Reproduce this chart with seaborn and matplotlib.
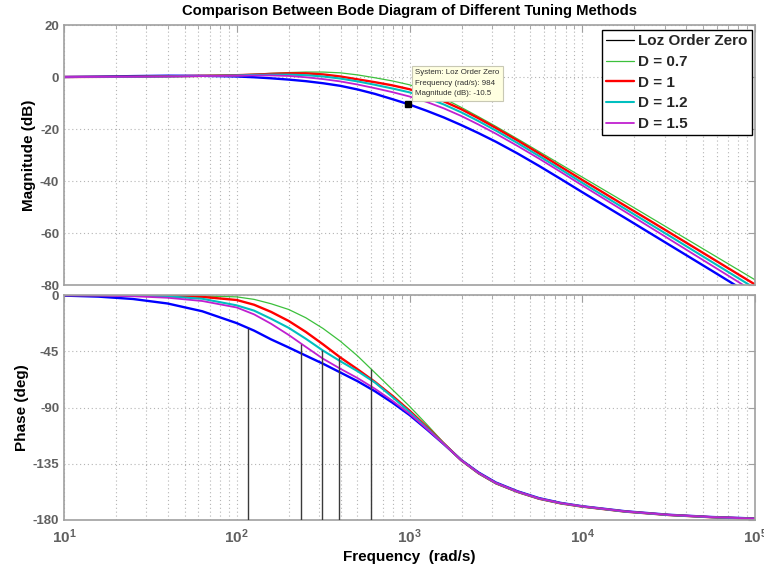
import numpy as np
import pandas as pd
import matplotlib
matplotlib.use("Agg")
import matplotlib.pyplot as plt
from matplotlib.lines import Line2D
from matplotlib.ticker import FixedLocator, LogLocator, NullFormatter
import seaborn as sns

# Frequency grid (rad/s)
freq = [10, 15.8, 25.1, 39.8, 63.1, 100, 126, 158, 200, 251, 316, 398, 501, 631, 794,
        1000, 1259, 1585, 1995, 2512, 3162, 4217, 5623, 7499, 10000, 17783, 31623, 56234, 100000]

# Magnitude (dB)
mag_loz = [0.0, 0.15, 0.35, 0.5, 0.45, 0.2, -0.1, -0.5, -1.0, -1.6, -2.4, -3.4, -4.8, -6.5, -8.5,
           -10.6, -13.0, -15.6, -18.5, -21.6, -24.9, -29.4, -34.2, -39.2, -44.3, -54.3, -64.4, -74.5, -84.7]
mag_d07 = [0.0, 0.05, 0.1, 0.25, 0.5, 0.8, 1.1, 1.4, 1.7, 1.9, 1.9, 1.6, 0.8, -0.3, -1.5,
           -3.0, -5.2, -8.3, -11.7, -15.3, -19.0, -23.8, -28.7, -33.6, -38.5, -48.3, -58.2, -68.1, -78.0]
mag_d10 = [0.0, 0.05, 0.1, 0.25, 0.45, 0.7, 0.9, 1.2, 1.4, 1.4, 1.0, 0.2, -0.9, -2.0, -3.2,
           -4.7, -6.8, -9.4, -12.4, -15.9, -19.6, -24.4, -29.4, -34.5, -39.6, -49.6, -59.6, -69.7, -79.8]
mag_d12 = [0.0, 0.05, 0.1, 0.2, 0.4, 0.6, 0.8, 0.9, 0.9, 0.7, 0.2, -0.6, -1.7, -3.0, -4.4,
           -5.9, -8.0, -10.6, -13.6, -17.0, -20.6, -25.4, -30.4, -35.5, -40.7, -50.8, -60.9, -71.1, -81.3]
mag_d15 = [0.0, 0.05, 0.1, 0.2, 0.35, 0.5, 0.6, 0.6, 0.4, -0.1, -0.8, -1.7, -2.9, -4.3, -5.8,
           -7.5, -9.6, -12.1, -15.0, -18.3, -21.8, -26.5, -31.4, -36.5, -41.7, -51.9, -62.2, -72.5, -82.8]

# Phase (deg)
ph_loz = [-0.5, -1.3, -3.2, -6.8, -13.0, -22.5, -28.5, -35.5, -42.0, -48.5, -55.0, -62.0, -69.0, -77.0, -86.0,
          -96.0, -107.5, -119.5, -132.0, -142.0, -150.0, -157.0, -162.5, -166.3, -169.0, -173.0, -175.8, -177.6, -178.8]
ph_d07 = [0.0, -0.1, -0.2, -0.4, -0.8, -1.5, -3.5, -7.0, -11.6, -18.2, -26.8, -37.0, -48.8, -62.2, -75.5,
          -89.0, -103.5, -118.5, -132.5, -143.0, -151.0, -157.8, -163.2, -166.9, -169.5, -173.5, -176.2, -177.9, -179.0]
ph_d10 = [0.0, -0.1, -0.3, -0.7, -1.5, -4.0, -7.8, -13.5, -20.8, -29.5, -39.5, -50.0, -59.5, -69.5, -80.5,
          -92.5, -105.5, -119.0, -132.3, -142.6, -150.6, -157.5, -163.0, -166.7, -169.3, -173.3, -176.0, -177.8, -179.0]
ph_d12 = [-0.1, -0.2, -0.5, -1.1, -3.0, -8.3, -12.5, -19.0, -26.3, -35.0, -44.5, -53.0, -61.0, -70.0, -81.5,
          -93.5, -106.3, -119.3, -132.2, -142.5, -150.5, -157.4, -162.9, -166.6, -169.2, -173.3, -176.0, -177.8, -179.0]
ph_d15 = [-0.2, -0.4, -1.0, -2.2, -4.8, -10.0, -15.5, -23.0, -32.0, -41.5, -51.0, -59.0, -66.5, -75.0, -84.5,
          -95.0, -107.0, -119.4, -132.2, -142.4, -150.4, -157.3, -162.8, -166.5, -169.1, -173.2, -175.9, -177.7, -178.9]

systems = ["Loz Order Zero", "D = 0.7", "D = 1", "D = 1.2", "D = 1.5"]
colors = ["#0000ff", "#3cc03c", "#ff0000", "#00bfbf", "#c020d0"]
widths = [1.7, 0.9, 1.7, 1.5, 1.3]
mags = [mag_loz, mag_d07, mag_d10, mag_d12, mag_d15]
phases = [ph_loz, ph_d07, ph_d10, ph_d12, ph_d15]

# Vertical markers on the phase plot, one per system
marker_freq = [116, 235, 311, 391, 598]
marker_phase = [-26.3, -39.5, -44.3, -49.5, -59.5]

# Data tip on the magnitude plot
tip_freq = 984
tip_mag = -10.5

frames = []
for name, m, p in zip(systems, mags, phases):
    frames.append(pd.DataFrame({"system": name, "freq": freq, "mag": m, "phase": p}))
df = pd.concat(frames, ignore_index=True)

sns.set_style("white")
plt.rcParams["font.family"] = ["Liberation Sans", "DejaVu Sans"]
plt.rcParams["font.weight"] = "bold"
plt.rcParams["axes.unicode_minus"] = False
plt.rcParams["mathtext.fontset"] = "custom"
plt.rcParams["mathtext.bf"] = "Liberation Sans:bold"
plt.rcParams["mathtext.rm"] = "Liberation Sans:bold"

W, H = 764, 569
fig = plt.figure(figsize=(W / 100, H / 100), dpi=100)
L, R = 64, 755
ax1 = fig.add_axes([L / W, 1 - 285 / H, (R - L) / W, 260 / H])
ax2 = fig.add_axes([L / W, 1 - 520 / H, (R - L) / W, 225 / H])

spine_col = "#a0a0a0"
tick_col = "#606060"
grid_kw = dict(color="#b4b4b4", linestyle=(0, (1, 2.5)), linewidth=0.8)

for ax in (ax1, ax2):
    ax.set_xscale("log")
    ax.set_xlim(10, 1e5)
    for s in ax.spines.values():
        s.set_color(spine_col)
        s.set_linewidth(1.2)
    ax.xaxis.set_major_locator(LogLocator(base=10, numticks=10))
    ax.xaxis.set_minor_locator(LogLocator(base=10, subs=np.arange(2, 10), numticks=20))
    ax.xaxis.set_minor_formatter(NullFormatter())
    ax.tick_params(which="both", direction="in", top=True, right=True, colors=spine_col,
                   labelcolor=tick_col, labelsize=9.5)
    ax.tick_params(which="major", length=5)
    ax.tick_params(which="minor", length=3)
    ax.grid(True, which="both", axis="x", **grid_kw)
    ax.grid(True, which="major", axis="y", **grid_kw)
    ax.set_axisbelow(True)

for name, c, lw in zip(systems, colors, widths):
    sub = df[df["system"] == name]
    sns.lineplot(data=sub, x="freq", y="mag", ax=ax1, color=c, linewidth=lw,
                 estimator=None, sort=False, legend=False)
    sns.lineplot(data=sub, x="freq", y="phase", ax=ax2, color=c, linewidth=lw,
                 estimator=None, sort=False, legend=False)

ax2.vlines(marker_freq, -180, marker_phase, colors="#3a3a3a", linewidth=1.0, zorder=3)

ax1.set_ylim(-80, 20)
ax1.yaxis.set_major_locator(FixedLocator([-80, -60, -40, -20, 0, 20]))
ax1.tick_params(axis="x", which="both", labelbottom=False)
ax2.set_ylim(-180, 0)
ax2.yaxis.set_major_locator(FixedLocator([-180, -135, -90, -45, 0]))
ax2.set_xticks([1e1, 1e2, 1e3, 1e4, 1e5])
ax2.set_xticklabels([r"$\mathbf{10^{%d}}$" % k for k in range(1, 6)])
ax2.tick_params(axis="x", which="major", pad=5, labelsize=11)

for ax in (ax1, ax2):
    for lab in ax.get_yticklabels() + ax.get_xticklabels():
        lab.set_fontweight("bold")

ax1.set_xlabel("")
ax2.set_xlabel("Frequency  (rad/s)", fontsize=11, fontweight="bold", color="black")
ax2.xaxis.set_label_coords(0.5, -0.135)
ax1.set_ylabel("Magnitude (dB)", fontsize=11, fontweight="bold", color="black")
ax1.yaxis.set_label_coords(-0.0405, 0.5)
ax2.set_ylabel("Phase (deg)", fontsize=11, fontweight="bold", color="black")
ax2.yaxis.set_label_coords(-0.05, 0.5)
fig.text((L + R) / 2 / W, 1 - 11 / H, "Comparison Between Bode Diagram of Different Tuning Methods",
         ha="center", va="center", fontsize=10.6, fontweight="bold", color="black")

# Data tip
ax1.plot([tip_freq], [tip_mag], marker="s", color="black", markersize=5, zorder=6)
ax1.annotate("System: Loz Order Zero\nFrequency (rad/s): %g\nMagnitude (dB): %g" % (tip_freq, tip_mag),
             xy=(tip_freq, tip_mag), xytext=(7, 7), textcoords="offset pixels",
             ha="left", va="bottom", fontsize=5.7, fontweight="normal", color="#303030",
             linespacing=1.7, zorder=7,
             bbox=dict(boxstyle="square,pad=0.45", fc="#ffffe1", ec="#c8c8b4", lw=0.8))

# Legend
handles = [Line2D([], [], color="black", lw=0.9)] + [
    Line2D([], [], color=c, lw=lw) for c, lw in zip(colors[1:], widths[1:])]
leg = ax1.legend(handles, systems, loc="upper right", bbox_to_anchor=(0.9957, 0.981),
                 borderaxespad=0, frameon=True, fancybox=False, framealpha=1,
                 edgecolor="black", handlelength=1.8, handletextpad=0.3,
                 labelspacing=0.44, borderpad=0.28, prop=dict(size=11, weight="bold"))
leg.get_frame().set_linewidth(1.0)

fig.savefig("out.png", dpi=100)
